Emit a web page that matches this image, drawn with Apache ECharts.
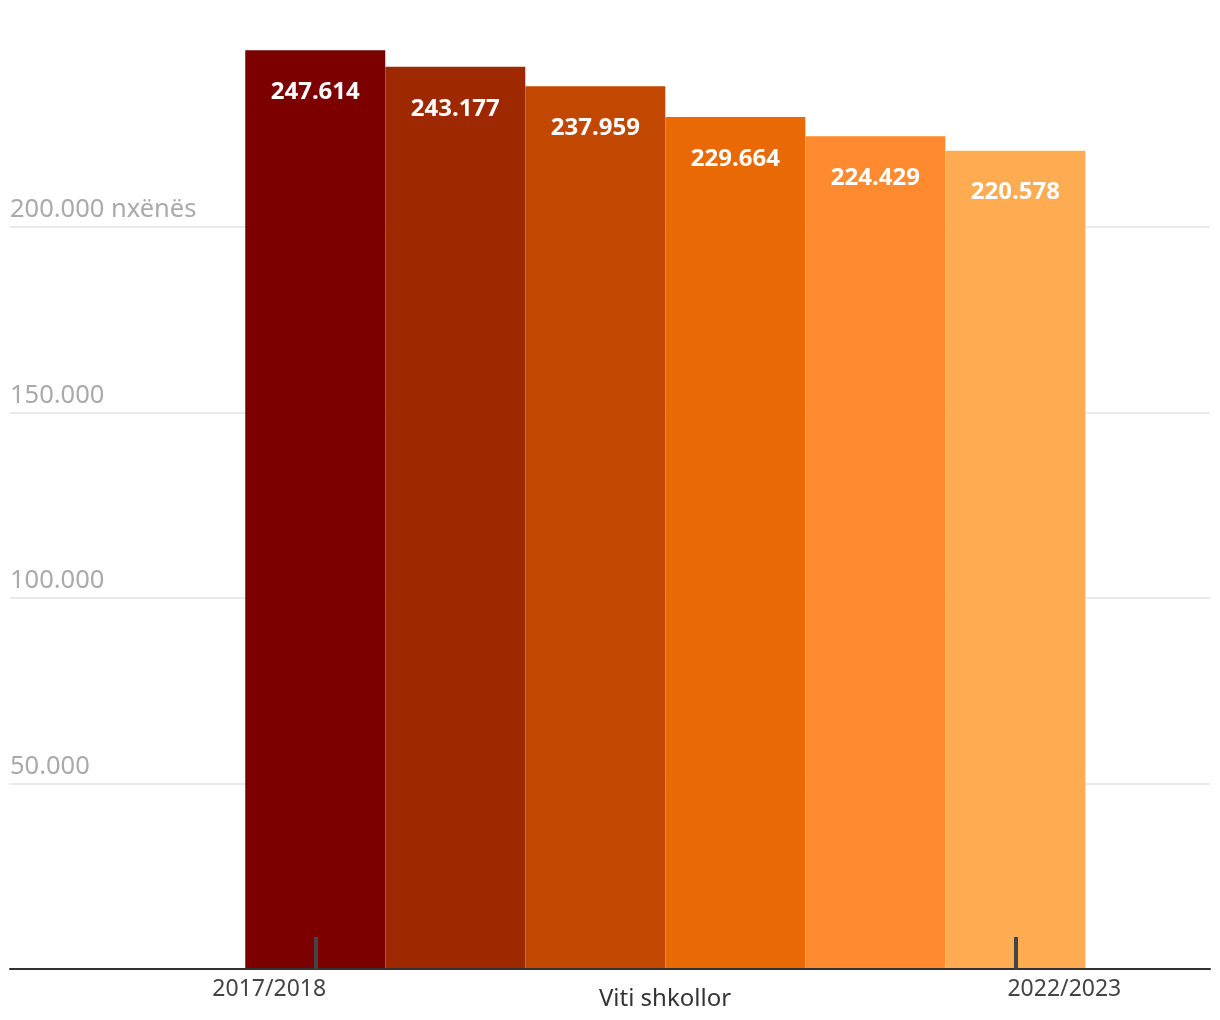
<!DOCTYPE html>
<html>
<head>
<meta charset="utf-8">
<script src="https://cdn.jsdelivr.net/npm/echarts@6/dist/echarts.min.js"></script>
<style>html,body{margin:0;padding:0;background:#fff}#c{width:1220px;height:1020px}</style>
</head>
<body>
<div id="c"></div>
<script>
const years = [2017, 2018, 2019, 2020, 2021, 2022];
const categories = ['2017/2018', '2018/2019', '2019/2020', '2020/2021', '2021/2022', '2022/2023'];
const students = [247614, 243177, 237959, 229664, 224429, 220578];
const barColors = ['#7d0000', '#9e2800', '#c24700', '#e96a04', '#ff8a2f', '#ffab52'];
const xTickYears = [2017, 2022];
const xTickLabels = ['2017/2018', '2022/2023'];
const yTicks = [50000, 100000, 150000, 200000];
const yUnit = 'nxënës';

const FONT = 'Noto Sans';
const fmt = v => v.toString().replace(/\B(?=(\d{3})+(?!\d))/g, '.');

const chart = echarts.init(document.getElementById('c'));
chart.setOption({
  animation: false,
  textStyle: { fontFamily: FONT },
  grid: { left: 10, right: 10, top: 41.5, bottom: 51, containLabel: false, outerBoundsMode: 'none' },
  xAxis: {
    type: 'value',
    z: 5,
    min: 2014.82,
    max: 2023.39,
    name: 'Viti shkollor',
    nameLocation: 'middle',
    nameGap: 18,
    nameMoveOverlap: false,
    nameTextStyle: { color: '#333', fontSize: 24, fontFamily: FONT, padding: [0, 0, 0, 110] },
    axisLine: { show: true, onZero: false, lineStyle: { color: '#333', width: 2 } },
    axisTick: { show: true, inside: true, length: 32, customValues: xTickYears, lineStyle: { color: '#444', width: 4 } },
    splitLine: { show: false },
    axisLabel: {
      customValues: xTickYears,
      margin: 9,
      formatter: v => {
        const i = xTickYears.indexOf(Math.round(v));
        if (i < 0) return '';
        return i === 0 ? '{a|' + xTickLabels[i] + '}' : '{b|' + xTickLabels[i] + '}';
      },
      rich: {
        a: { color: '#444', fontSize: 23, fontFamily: FONT, padding: [0, 92, 0, 0] },
        b: { color: '#444', fontSize: 23, fontFamily: FONT, padding: [0, 0, 0, 98] }
      }
    }
  },
  yAxis: {
    type: 'value',
    min: 0,
    max: 250000,
    interval: 50000,
    axisLine: { show: false },
    axisTick: { show: false },
    splitLine: { show: true, showMinLine: false, showMaxLine: false, lineStyle: { color: '#e3e3e3', width: 1.5 } },
    axisLabel: {
      inside: true,
      margin: 0,
      showMinLabel: false,
      showMaxLabel: false,
      verticalAlign: 'bottom',
      padding: [0, 0, 4, 0],
      color: '#aaaaaa',
      fontSize: 25.5,
      fontFamily: FONT,
      formatter: v => {
        if (yTicks.indexOf(v) < 0) return '';
        return v === yTicks[yTicks.length - 1] ? fmt(v) + ' ' + yUnit : fmt(v);
      }
    }
  },
  series: [{
    type: 'bar',
    barWidth: 140,
    data: years.map((y, i) => ({ value: [y, students[i]], itemStyle: { color: barColors[i] } })),
    label: {
      show: true,
      position: 'insideTop',
      distance: 30,
      color: '#fff',
      fontSize: 24,
      fontWeight: 'bold',
      fontFamily: FONT,
      formatter: p => fmt(p.value[1])
    }
  }]
});
</script>
</body>
</html>
